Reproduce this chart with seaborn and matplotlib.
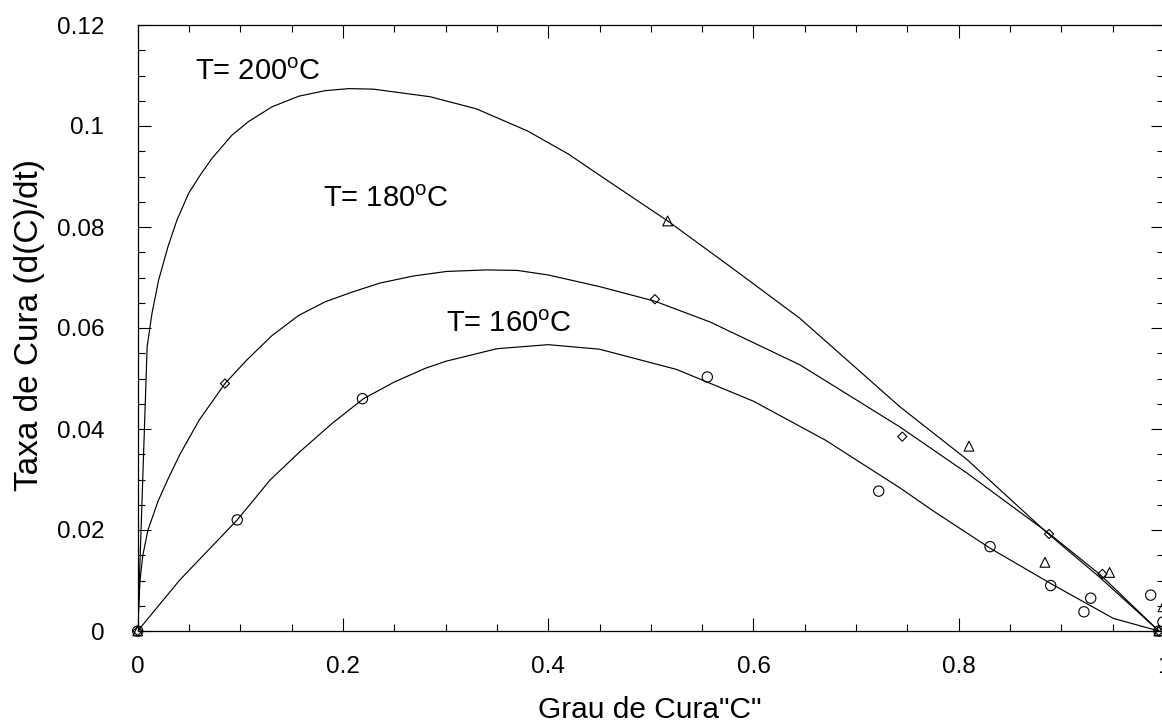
import matplotlib
matplotlib.use("Agg")
import matplotlib.pyplot as plt
import seaborn as sns
import pandas as pd
from matplotlib.ticker import MultipleLocator, FuncFormatter

# ---------------- data ----------------
# fitted curves
x_200 = [0, 0.0092, 0.0139, 0.0204, 0.0295, 0.0383, 0.0497, 0.061, 0.0724, 0.0919,
         0.1081, 0.1309, 0.1569, 0.1828, 0.2056, 0.2296, 0.2848, 0.33, 0.38, 0.42, 0.4504,
         0.5164, 0.5804, 0.6453, 0.7427, 0.8078, 0.8857, 0.9376, 0.995]
y_200 = [0, 0.0563, 0.0629, 0.0695, 0.0761, 0.0814, 0.0867, 0.0903, 0.0936, 0.0982,
         0.1009, 0.1038, 0.1059, 0.1070, 0.1074, 0.1073, 0.1058, 0.1034, 0.0990, 0.0944, 0.0902,
         0.0812, 0.0717, 0.0619, 0.0444, 0.0340, 0.0195, 0.0106, 0]

x_180 = [0, 0.0023, 0.005, 0.01, 0.02, 0.03, 0.0412, 0.06, 0.085, 0.1065, 0.1309, 0.1569,
         0.1828, 0.2088, 0.2361, 0.2686, 0.3011, 0.34, 0.37, 0.40, 0.45, 0.504, 0.5576,
         0.6453, 0.7427, 0.8078, 0.888, 0.9376, 0.995]
y_180 = [0, 0.0101, 0.0150, 0.0200, 0.0258, 0.0303, 0.0350, 0.0418, 0.0490, 0.0537, 0.0585, 0.0625,
         0.0652, 0.0671, 0.0689, 0.0703, 0.0712, 0.0715, 0.0714, 0.0705, 0.0682, 0.0653, 0.0612,
         0.0527, 0.0404, 0.0313, 0.0193, 0.0112, 0]

x_160 = [0, 0.041, 0.097, 0.129, 0.158, 0.19, 0.22, 0.25, 0.28, 0.30, 0.35, 0.40, 0.45, 0.525,
         0.60, 0.67, 0.743, 0.775, 0.8305, 0.8896, 0.9506, 0.995]
y_160 = [0, 0.0101, 0.0220, 0.0299, 0.0355, 0.0412, 0.0460, 0.0493, 0.0520, 0.0534, 0.0559, 0.0567,
         0.0558, 0.0518, 0.0455, 0.0378, 0.0283, 0.0238, 0.0164, 0.0094, 0.0025, 0]

# experimental points
px_160 = [0, 0.097, 0.219, 0.555, 0.722, 0.8305, 0.8896, 0.9286, 0.922, 0.987, 0.999, 0.995]
py_160 = [0, 0.022, 0.046, 0.0503, 0.0277, 0.0167, 0.0090, 0.0065, 0.0038, 0.0071, 0.0018, 0]

px_180 = [0, 0.085, 0.504, 0.745, 0.888, 0.940, 0.995]
py_180 = [0, 0.049, 0.0657, 0.0385, 0.0192, 0.0113, 0]

px_200 = [0, 0.5164, 0.810, 0.884, 0.947, 0.999, 0.995]
py_200 = [0, 0.0812, 0.0366, 0.0136, 0.0116, 0.0048, 0]

labels = ["T= 200$^{\\mathrm{o}}$C", "T= 180$^{\\mathrm{o}}$C", "T= 160$^{\\mathrm{o}}$C"]
x_ticks = [0, 0.2, 0.4, 0.6, 0.8, 1]
y_ticks = [0, 0.02, 0.04, 0.06, 0.08, 0.1, 0.12]
xlabel = 'Grau de Cura"C"'
ylabel = "Taxa de Cura (d(C)/dt)"

# ---------------- styling ----------------
sns.set_theme(style="ticks")
plt.rcParams["font.family"] = ["Liberation Sans", "DejaVu Sans"]
plt.rcParams["mathtext.fontset"] = "custom"
plt.rcParams["mathtext.rm"] = "Liberation Sans"
plt.rcParams["mathtext.it"] = "Liberation Sans:italic"

fig = plt.figure(figsize=(11.62, 7.24), dpi=100)
ax = fig.add_axes([137.7 / 1162, 93 / 724, (1164 - 137.7) / 1162, 606 / 724])

curves = pd.DataFrame({
    "x": x_200 + x_180 + x_160,
    "y": y_200 + y_180 + y_160,
    "s": ["200"] * len(x_200) + ["180"] * len(x_180) + ["160"] * len(x_160),
})
sns.lineplot(data=curves, x="x", y="y", units="s", estimator=None, sort=False,
             color="black", lw=0.85, ax=ax, legend=False)

pts = [(px_160, py_160, "o", 55), (px_180, py_180, "D", 22), (px_200, py_200, "^", 50)]
for xs, ys, mk, sz in pts:
    sns.scatterplot(x=xs, y=ys, marker=mk, s=sz, facecolor="none", edgecolor="black",
                    linewidth=0.8, ax=ax, legend=False, zorder=3, clip_on=False)

ax.set_xlim(0, 1)
ax.set_ylim(0, 0.12)
ax.set_xticks(x_ticks)
ax.set_yticks(y_ticks)
ax.xaxis.set_minor_locator(MultipleLocator(0.05))
ax.yaxis.set_minor_locator(MultipleLocator(0.005))
fmt = FuncFormatter(lambda v, p: f"{v:g}")
ax.xaxis.set_major_formatter(fmt)
ax.yaxis.set_major_formatter(fmt)

ax.tick_params(which="both", direction="in", top=True, right=True, color="black", width=0.8)
ax.tick_params(which="major", length=9.5, labelsize=17.5, labelcolor="black")
ax.tick_params(which="minor", length=5)
ax.tick_params(axis="y", which="major", pad=24)
ax.tick_params(axis="x", which="major", pad=18)
for sp in ax.spines.values():
    sp.set_visible(True)
    sp.set_color("black")
    sp.set_linewidth(0.9)

ax.set_xlabel(xlabel, fontsize=21.5, color="black")
ax.set_ylabel(ylabel, fontsize=24, color="black")
ax.xaxis.set_label_coords((650 - 137.7) / 1026.3, (631 - 710) / 606)
ax.xaxis.label.set_va("center")
ax.yaxis.set_label_coords((29 - 137.7) / 1026.3, 0.505)
ax.yaxis.label.set_va("center")

ann_pos = [(0.0558, 0.1092), (0.1808, 0.0839), (0.3001, 0.0593)]
for (tx, ty), lab in zip(ann_pos, labels):
    ax.text(tx, ty, lab, fontsize=21, ha="left", va="baseline", color="black")

fig.savefig("out.png", dpi=100)
